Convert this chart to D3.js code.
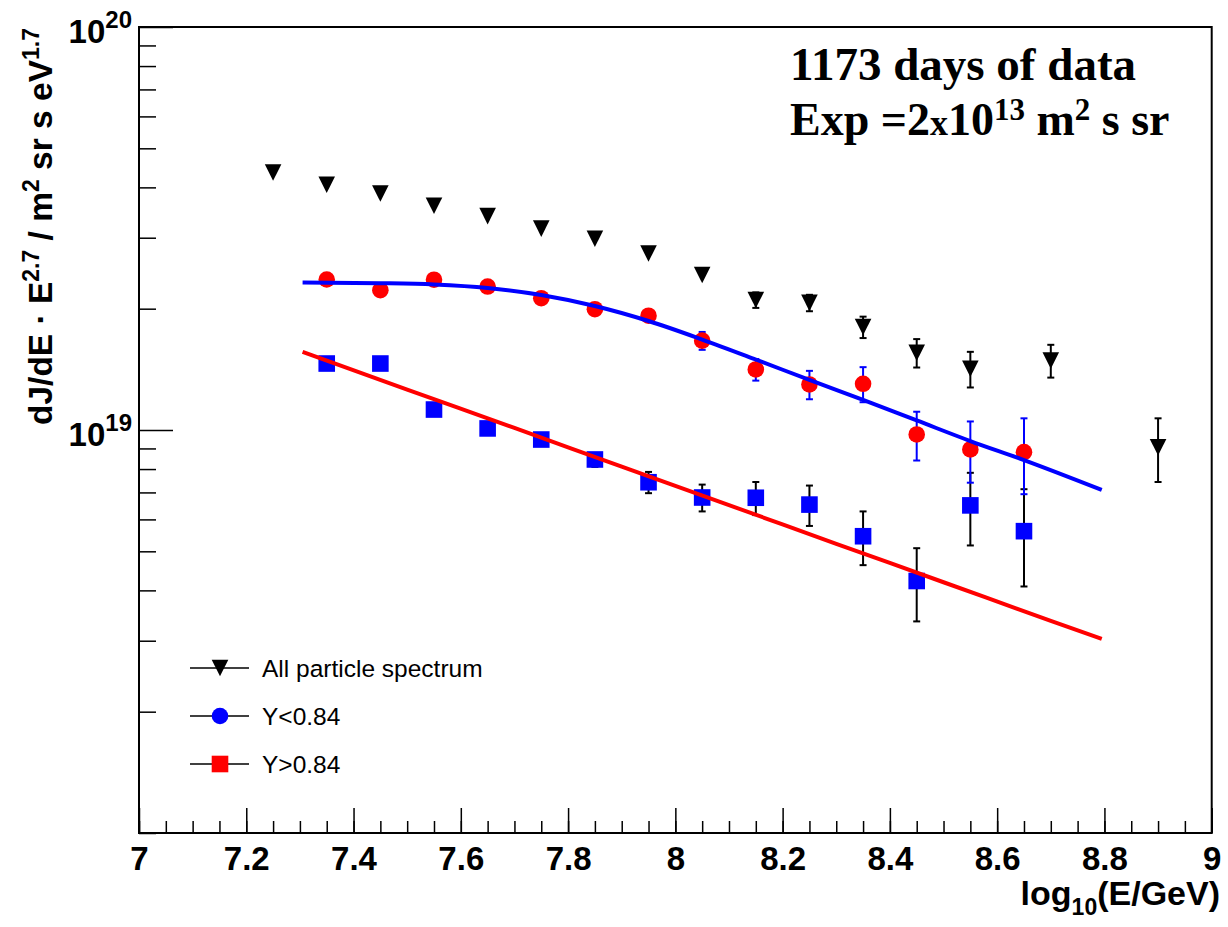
<!DOCTYPE html>
<html>
<head>
<meta charset="utf-8">
<script src="https://cdn.jsdelivr.net/npm/d3@7"></script>
<style>
  body { margin: 0; background: #fff; }
  svg { display: block; }
</style>
</head>
<body>
<svg id="chart" width="1228" height="927"></svg>
<script>
// ---- data: log10(E/GeV) bins and flux x E^2.7 values ----
const allEnergy = [7.25, 7.35, 7.45, 7.55, 7.65, 7.75, 7.85, 7.95, 8.05, 8.15, 8.25, 8.35, 8.45, 8.55, 8.7, 8.9];
const allFlux   = [4.355e19, 4.06e19, 3.862e19, 3.60e19, 3.393e19, 3.16e19, 2.983e19, 2.742e19, 2.425e19, 2.102e19, 2.068e19, 1.801e19, 1.555e19, 1.419e19, 1.488e19, 9.06e18];
const allErr    = [0.25e18, 0.3e18, 0.3e18, 0.35e18, 0.4e18, 0.45e18, 0.5e18, 0.6e18, 0.7e18, 0.93e18, 0.97e18, 1.1e18, 1.26e18, 1.44e18, 1.39e18, 1.63e18];

const groupEnergy = [7.35, 7.45, 7.55, 7.65, 7.75, 7.85, 7.95, 8.05, 8.15, 8.25, 8.35, 8.45, 8.55, 8.65];
const lowYFlux  = [2.363e19, 2.223e19, 2.36e19, 2.27e19, 2.123e19, 1.994e19, 1.921e19, 1.666e19, 1.413e19, 1.297e19, 1.302e19, 9.75e18, 8.95e18, 8.81e18];
const lowYErr   = [0.3e18, 0.35e18, 0.4e18, 0.45e18, 0.5e18, 0.55e18, 0.65e18, 0.85e18, 0.87e18, 1.05e18, 1.3e18, 1.35e18, 1.55e18, 1.88e18];
const highYFlux = [1.462e19, 1.462e19, 1.124e19, 1.009e19, 9.47e18, 8.45e18, 7.42e18, 6.80e18, 6.79e18, 6.53e18, 5.45e18, 4.22e18, 6.50e18, 5.61e18];
const highYErr  = [0.2e18, 0.22e18, 0.25e18, 0.28e18, 0.3e18, 0.35e18, 0.45e18, 0.52e18, 0.64e18, 0.75e18, 0.83e18, 0.87e18, 1.33e18, 1.52e18];

// fitted spectra (sampled)
const lowFitEnergy  = [7.305, 7.45, 7.55, 7.65, 7.75, 7.85, 7.95, 8.05, 8.15, 8.25, 8.35, 8.45, 8.55, 8.65, 8.795];
const lowFitFlux    = [2.324e19, 2.314e19, 2.296e19, 2.251e19, 2.163e19, 2.031e19, 1.864e19, 1.677e19, 1.496e19, 1.331e19, 1.187e19, 1.056e19, 9.39e18, 8.42e18, 7.10e18];
const highFitEnergy = [7.305, 7.5, 7.7, 7.9, 8.1, 8.3, 8.5, 8.7, 8.795];
const highFitFlux   = [1.563e19, 1.260e19, 1.012e19, 8.11e18, 6.51e18, 5.22e18, 4.19e18, 3.36e18, 3.03e18];

// axes
const xTickValues = [7, 7.2, 7.4, 7.6, 7.8, 8, 8.2, 8.4, 8.6, 8.8, 9];
const xTickLabels = ["7", "7.2", "7.4", "7.6", "7.8", "8", "8.2", "8.4", "8.6", "8.8", "9"];
const yDecadeExponents = [19, 20];

const legendLabels = ["All particle spectrum", "Y<0.84", "Y>0.84"];

// ---- layout ----
const svg = d3.select("#chart");
const frame = { left: 139, right: 1211.7, top: 27, bottom: 833 };
const sans = "'Liberation Sans', Arial, Helvetica, sans-serif";
const serif = "'Liberation Serif', 'Times New Roman', Times, serif";
const BLUE = "#0000ff", RED = "#ff0000";
const half = 8.3;   // marker half size

const x = d3.scaleLinear().domain([7, 9]).range([frame.left, frame.right]);
const y = d3.scaleLog().domain([1e18, 1e20]).range([frame.bottom, frame.top]);

// ---- axes ----
function styleAxis(g) {
  g.select(".domain").remove();
  g.selectAll(".tick line").attr("stroke", "#000").attr("stroke-width", 1.5);
}

svg.append("g")
  .attr("transform", `translate(0,${frame.bottom})`)
  .call(d3.axisBottom(x).tickValues(x.ticks(40)).tickSizeInner(-12).tickSizeOuter(0).tickFormat(""))
  .call(styleAxis);

const gx = svg.append("g")
  .attr("transform", `translate(0,${frame.bottom})`)
  .call(d3.axisBottom(x).tickValues(xTickValues).tickSizeInner(-25).tickSizeOuter(0)
        .tickPadding(14).tickFormat((d, i) => xTickLabels[i]))
  .call(styleAxis);
gx.selectAll(".tick text")
  .attr("font-family", sans).attr("font-weight", "bold").attr("font-size", 33).attr("fill", "#000");

const yMajor = yDecadeExponents.map(e => Math.pow(10, e));
svg.append("g")
  .attr("transform", `translate(${frame.left},0)`)
  .call(d3.axisLeft(y).tickValues(y.ticks().filter(v => !yMajor.some(m => Math.abs(v / m - 1) < 1e-9)))
        .tickSizeInner(-17).tickSizeOuter(0).tickFormat(""))
  .call(styleAxis);

const gy = svg.append("g")
  .attr("transform", `translate(${frame.left},0)`)
  .call(d3.axisLeft(y).tickValues(yMajor).tickSizeInner(-34).tickSizeOuter(0).tickFormat(""))
  .call(styleAxis);
gy.selectAll(".tick").each(function (d, i) {
  const t = d3.select(this).append("text")
    .attr("x", -7).attr("y", 15)
    .attr("text-anchor", "end")
    .attr("font-family", sans).attr("font-weight", "bold").attr("fill", "#000");
  t.append("tspan").attr("font-size", 33).text("10");
  t.append("tspan").attr("font-size", 24).attr("dy", -15).text(String(yDecadeExponents[i]));
});

// frame
svg.append("rect")
  .attr("x", frame.left).attr("y", frame.top)
  .attr("width", frame.right - frame.left).attr("height", frame.bottom - frame.top)
  .attr("fill", "none").attr("stroke", "#000").attr("stroke-width", 2);

// axis titles
const xt = svg.append("text")
  .attr("x", 1220).attr("y", 905)
  .attr("text-anchor", "end")
  .attr("font-family", sans).attr("font-weight", "bold").attr("font-size", 34);
xt.append("tspan").text("log");
xt.append("tspan").attr("font-size", 23).attr("dy", 10).text("10");
xt.append("tspan").attr("dy", -10).text("(E/GeV)");

const yt = svg.append("text")
  .attr("transform", "translate(52,28) rotate(-90)")
  .attr("text-anchor", "end")
  .attr("font-family", sans).attr("font-weight", "bold").attr("font-size", 33.5);
yt.append("tspan").text("dJ/dE \u00B7 E");
yt.append("tspan").attr("font-size", 23).attr("dy", -13).text("2.7");
yt.append("tspan").attr("dy", 13).text(" / m");
yt.append("tspan").attr("font-size", 23).attr("dy", -13).text("2");
yt.append("tspan").attr("dy", 13).text(" sr s eV");
yt.append("tspan").attr("font-size", 23).attr("dy", -13).text("1.7");

// ---- marker shapes ----
const trianglePath = `M${-half},${-half}L${half},${-half}L0,${half}Z`;

function drawErrors(g, xs, ys, es, color) {
  const pts = xs.map((xv, i) => ({ cx: x(xv), cy: y(ys[i]), top: y(ys[i] + es[i]), bot: y(ys[i] - es[i]) }));
  g.selectAll(null).data(pts).enter().append("line")
    .attr("x1", d => d.cx).attr("x2", d => d.cx)
    .attr("y1", d => d.top).attr("y2", d => d.bot)
    .attr("stroke", color).attr("stroke-width", 2);
  const caps = [];
  pts.forEach(p => {
    if (p.cy - p.top > half - 1) caps.push({ cx: p.cx, cy: p.top });
    if (p.bot - p.cy > half - 1) caps.push({ cx: p.cx, cy: p.bot });
  });
  g.selectAll(null).data(caps).enter().append("line")
    .attr("x1", d => d.cx - 3.5).attr("x2", d => d.cx + 3.5)
    .attr("y1", d => d.cy).attr("y2", d => d.cy)
    .attr("stroke", color).attr("stroke-width", 2);
}

// all particle spectrum
const gAll = svg.append("g");
drawErrors(gAll, allEnergy, allFlux, allErr, "#000");
gAll.selectAll(null).data(allEnergy).enter().append("path")
  .attr("d", trianglePath)
  .attr("transform", (d, i) => `translate(${x(d)},${y(allFlux[i])})`)
  .attr("fill", "#000");

// Y>0.84 group (squares)
const gHigh = svg.append("g");
drawErrors(gHigh, groupEnergy, highYFlux, highYErr, "#000");
gHigh.selectAll(null).data(groupEnergy).enter().append("rect")
  .attr("x", d => x(d) - half).attr("y", (d, i) => y(highYFlux[i]) - half)
  .attr("width", 2 * half).attr("height", 2 * half)
  .attr("fill", BLUE);

// Y<0.84 group (circles)
const gLow = svg.append("g");
drawErrors(gLow, groupEnergy, lowYFlux, lowYErr, BLUE);
gLow.selectAll(null).data(groupEnergy).enter().append("circle")
  .attr("cx", d => x(d)).attr("cy", (d, i) => y(lowYFlux[i]))
  .attr("r", half)
  .attr("fill", RED);

// fits
const fitLine = d3.line().x(d => x(d[0])).y(d => y(d[1])).curve(d3.curveMonotoneX);
svg.append("path")
  .datum(lowFitEnergy.map((e, i) => [e, lowFitFlux[i]]))
  .attr("d", fitLine).attr("fill", "none").attr("stroke", BLUE).attr("stroke-width", 4);
svg.append("path")
  .datum(highFitEnergy.map((e, i) => [e, highFitFlux[i]]))
  .attr("d", fitLine).attr("fill", "none").attr("stroke", RED).attr("stroke-width", 4);

// ---- legend ----
const legendRows = [668, 716, 764];
const lg = svg.append("g");
legendRows.forEach((ry, i) => {
  lg.append("line").attr("x1", 190).attr("x2", 249).attr("y1", ry).attr("y2", ry)
    .attr("stroke", "#000").attr("stroke-width", 1.5);
  if (i === 0) {
    lg.append("path").attr("d", trianglePath).attr("transform", `translate(220,${ry})`).attr("fill", "#000");
  } else if (i === 1) {
    lg.append("circle").attr("cx", 220).attr("cy", ry).attr("r", half).attr("fill", BLUE);
  } else {
    lg.append("rect").attr("x", 220 - half).attr("y", ry - half).attr("width", 2 * half).attr("height", 2 * half).attr("fill", RED);
  }
  lg.append("text").attr("x", 262).attr("y", ry).attr("dy", "0.35em")
    .attr("font-family", sans).attr("font-size", 24.5).attr("fill", "#000")
    .text(legendLabels[i]);
});

// ---- exposure note ----
const note = svg.append("g").attr("font-family", serif).attr("font-weight", "bold").attr("fill", "#000");
note.append("text").attr("x", 790).attr("y", 80).attr("font-size", 47).text("1173 days of data");
const l2 = note.append("text").attr("x", 790).attr("y", 135).attr("font-size", 46);
l2.append("tspan").text("Exp =2");
l2.append("tspan").attr("font-size", 36).text("x");
l2.append("tspan").text("10");
l2.append("tspan").attr("font-size", 31).attr("dy", -15).text("13");
l2.append("tspan").attr("dy", 15).text(" m");
l2.append("tspan").attr("font-size", 31).attr("dy", -15).text("2");
l2.append("tspan").attr("dy", 15).text(" s sr");
</script>
</body>
</html>
